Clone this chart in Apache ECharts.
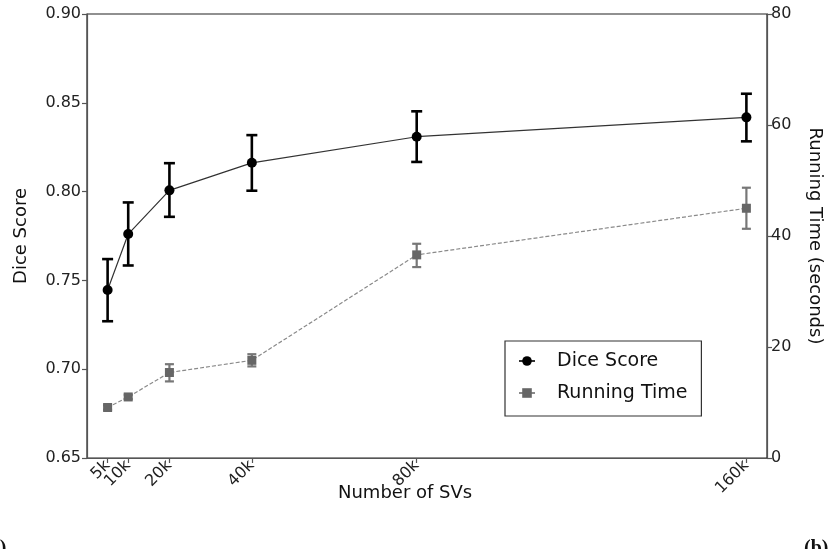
<!DOCTYPE html>
<html>
<head>
<meta charset="utf-8">
<script src="https://cdn.jsdelivr.net/npm/echarts@6/dist/echarts.min.js"></script>
<style>html,body{margin:0;padding:0;background:#fff;}#c{width:839px;height:549px;}</style>
</head>
<body>
<div id="c"></div>
<script>
const svs = [5, 10, 20, 40, 80, 160];
const tickLabels = ['5k', '10k', '20k', '40k', '80k', '160k'];
const dice = [0.7446, 0.7761, 0.8007, 0.8162, 0.8309, 0.8418];
const diceLow = [0.7270, 0.7584, 0.7858, 0.8005, 0.8167, 0.8283];
const diceHigh = [0.7620, 0.7939, 0.8160, 0.8318, 0.8452, 0.8551];
const runTime = [9.1, 11.0, 15.4, 17.6, 36.6, 45.0];
const runLow = [8.7, 10.6, 13.8, 16.5, 34.4, 41.3];
const runHigh = [9.5, 11.4, 16.9, 18.7, 38.6, 48.7];

const font = 'DejaVu Sans, sans-serif';
const chart = echarts.init(document.getElementById('c'));

function errBar(color, lw, capW) {
  return function (params, api) {
    const x = api.value(0);
    const lo = api.coord([x, api.value(1)]);
    const hi = api.coord([x, api.value(2)]);
    const st = { stroke: color, lineWidth: lw };
    return {
      type: 'group',
      children: [
        { type: 'line', shape: { x1: lo[0], y1: lo[1], x2: hi[0], y2: hi[1] }, style: st },
        { type: 'line', shape: { x1: lo[0] - capW / 2, y1: lo[1], x2: lo[0] + capW / 2, y2: lo[1] }, style: st },
        { type: 'line', shape: { x1: hi[0] - capW / 2, y1: hi[1], x2: hi[0] + capW / 2, y2: hi[1] }, style: st }
      ]
    };
  };
}

function xLabelAxis(values, showLine) {
  return {
    type: 'value', min: 0, max: 165, position: 'bottom',
    splitLine: { show: false },
    axisLine: { show: showLine, onZero: false, lineStyle: { color: '#555', width: 1.2 } },
    axisTick: { show: showLine, customValues: svs, length: 5, lineStyle: { color: '#555', width: 1.2 } },
    axisLabel: {
      customValues: values, rotate: 45, margin: 5, hideOverlap: false,
      formatter: v => tickLabels[svs.indexOf(v)],
      fontFamily: font, fontSize: 16, color: '#222'
    }
  };
}

const option = {
  backgroundColor: '#fff',
  animation: false,
  grid: { left: 87, right: 72, top: 14, bottom: 91, show: true, borderColor: '#222', borderWidth: 1.2 },
  legend: {
    orient: 'vertical', left: 505, top: 341,
    padding: [10, 14, 13, 13], itemGap: 12, itemWidth: 16, itemHeight: 12,
    borderColor: '#333', borderWidth: 1.2, backgroundColor: '#fff',
    textStyle: { fontFamily: font, fontSize: 19, color: '#111', lineHeight: 20, padding: [0, 0, 0, 17] },
    data: ['Dice Score', 'Running Time']
  },
  xAxis: [xLabelAxis(svs.slice(1), true), xLabelAxis(svs.slice(0, 1), false)],
  yAxis: [
    {
      type: 'value', min: 0.65, max: 0.90, interval: 0.05, position: 'left',
      splitLine: { show: false },
      axisLine: { show: true, onZero: false, lineStyle: { color: '#555', width: 1.2 } },
      axisTick: { show: true, length: 5, lineStyle: { color: '#555', width: 1.2 } },
      axisLabel: { formatter: v => v.toFixed(2), fontFamily: font, fontSize: 16, color: '#222', margin: 6 },
      name: 'Dice Score', nameLocation: 'middle', nameGap: 57, nameRotate: 90,
      nameTextStyle: { fontFamily: font, fontSize: 18, color: '#111' }
    },
    {
      type: 'value', min: 0, max: 80, interval: 20, position: 'right',
      splitLine: { show: false },
      axisLine: { show: true, onZero: false, lineStyle: { color: '#555', width: 1.2 } },
      axisTick: { show: true, length: 5, lineStyle: { color: '#555', width: 1.2 } },
      axisLabel: { fontFamily: font, fontSize: 16, color: '#222', margin: 4 },
      name: 'Running Time (seconds)', nameLocation: 'middle', nameGap: 39, nameRotate: -90,
      nameTextStyle: { fontFamily: font, fontSize: 18, color: '#111' }
    }
  ],
  graphic: [
    { type: 'text', left: 338, top: 484, style: { text: 'Number of SVs', font: '18px ' + font, fill: '#111' } },
    { type: 'text', left: 804, top: 539, style: { text: '(b)', font: 'bold 20px Liberation Serif, serif', fill: '#111' } },
    { type: 'text', left: -17, top: 539, style: { text: '(a)', font: 'bold 20px Liberation Serif, serif', fill: '#111' } }
  ],
  series: [
    {
      name: 'Running Time', type: 'line', yAxisIndex: 1,
      data: svs.map((s, i) => [s, runTime[i]]),
      symbol: 'rect', symbolSize: 9,
      lineStyle: { color: '#8a8a8a', width: 1.2, type: [4, 2] },
      itemStyle: { color: '#666' }, z: 3
    },
    {
      type: 'custom', yAxisIndex: 1,
      renderItem: errBar('#777', 2.2, 9),
      data: svs.map((s, i) => [s, runLow[i], runHigh[i]]), z: 2
    },
    {
      name: 'Dice Score', type: 'line', yAxisIndex: 0,
      data: svs.map((s, i) => [s, dice[i]]),
      symbol: 'circle', symbolSize: 10,
      lineStyle: { color: '#333', width: 1.2 },
      itemStyle: { color: '#000' }, z: 5
    },
    {
      type: 'custom', yAxisIndex: 0,
      renderItem: errBar('#000', 2.6, 11),
      data: svs.map((s, i) => [s, diceLow[i], diceHigh[i]]), z: 4
    }
  ]
};
chart.setOption(option);
</script>
</body>
</html>
